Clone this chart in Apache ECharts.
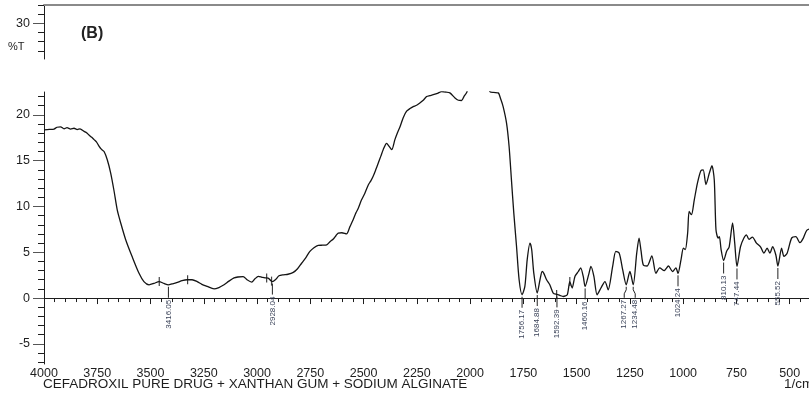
<!DOCTYPE html>
<html>
<head>
<meta charset="utf-8">
<script src="https://cdn.jsdelivr.net/npm/echarts@6/dist/echarts.min.js"></script>
<style>
  html, body { margin: 0; padding: 0; background: #fff; }
  #chart { width: 809px; height: 394px; }
</style>
</head>
<body>
<div id="chart"></div>
<script>
// FTIR spectrum: wavenumber (1/cm) against transmittance (%T)
const wavenumber = [
  4000, 3975, 3953, 3939, 3922, 3906, 3892, 3875, 3859, 3844, 3831, 3812, 3800, 3789, 3776,
  3765, 3754, 3742, 3730, 3718, 3703, 3687, 3672, 3656, 3640, 3617, 3586, 3554, 3531, 3507,
  3484, 3460, 3437, 3416.05, 3399, 3374, 3352, 3328, 3305, 3281, 3259, 3234, 3202, 3179, 3155,
  3132, 3108, 3090, 3065, 3047, 3025, 3010, 2994, 2977, 2963, 2948, 2935, 2928.04, 2912, 2897,
  2877, 2855, 2830, 2810, 2791, 2770, 2752, 2733, 2713, 2693, 2673, 2658, 2642, 2630, 2619,
  2602, 2580, 2564, 2549, 2536, 2525, 2510, 2494, 2478, 2466, 2455, 2443, 2431, 2419, 2408,
  2392, 2381, 2368, 2353, 2341, 2329, 2314, 2298, 2282, 2267, 2251, 2236, 2220, 2204, 2189,
  2173, 2153, 2134, 2114, 2095, 2071, 2055, 2040, 2029, 2016, 2000, 1960, 1930, 1907, 1889,
  1868, 1856, 1845, 1829, 1817, 1806, 1795, 1782, 1770, 1756.17, 1743, 1732, 1719, 1711, 1701,
  1684.88, 1672, 1662, 1654, 1641, 1626, 1610, 1592.39, 1579, 1563, 1544, 1532, 1521, 1508, 1492,
  1481, 1469, 1460.16, 1442, 1433, 1419, 1404, 1386, 1367, 1352, 1331, 1316, 1300, 1284, 1267.27,
  1250, 1234.48, 1218, 1207, 1198, 1187, 1169, 1147, 1128, 1110, 1089, 1069, 1050, 1034, 1024.24,
  1010, 999, 990, 979, 972, 961, 948, 933, 917, 906, 893, 877, 865, 854, 846,
  836, 830, 822, 810.13, 796, 784, 768, 758, 747.44, 731, 715, 703, 691, 675, 656,
  637, 621, 606, 593, 580, 565, 555.52, 538, 527, 512, 491, 471, 452, 436, 420, 400
];
const transmittance = [
  18.37, 18.42, 18.45, 18.65, 18.70, 18.48, 18.60, 18.45, 18.54, 18.40, 18.48, 18.20, 18.05, 17.80, 17.55,
  17.30, 17.06, 16.60, 16.24, 16.00, 15.10, 13.65, 11.80, 9.60, 8.20, 6.40, 4.50, 2.70, 1.80, 1.45,
  1.60, 1.80, 1.60, 1.45, 1.55, 1.70, 1.90, 2.00, 2.00, 1.80, 1.50, 1.27, 1.00, 1.15, 1.45,
  1.85, 2.20, 2.30, 2.35, 2.00, 1.75, 2.10, 2.36, 2.27, 2.20, 2.18, 1.90, 1.80, 2.05, 2.43,
  2.54, 2.60, 2.80, 3.20, 3.80, 4.45, 5.10, 5.50, 5.75, 5.77, 5.80, 6.15, 6.45, 6.80, 7.10,
  7.13, 7.00, 7.80, 8.55, 9.30, 9.80, 10.70, 11.45, 12.35, 12.80, 13.30, 14.00, 14.75, 15.50, 16.20,
  16.90, 16.60, 16.20, 17.30, 18.05, 18.70, 19.70, 20.40, 20.70, 20.90, 21.05, 21.30, 21.60, 22.00, 22.10,
  22.20, 22.35, 22.55, 22.50, 22.40, 21.85, 21.60, 21.57, 22.00, 22.45, 23.60, 24.20, 23.80, 22.55, 22.45,
  22.40, 21.70, 20.90, 19.10, 16.55, 12.90, 9.30, 5.60, 2.00, 0.36, 1.27, 4.20, 6.00, 5.30, 2.70,
  0.55, 2.00, 2.90, 2.70, 2.00, 1.45, 0.55, 0.40, 0.30, 0.17, 0.36, 1.80, 1.10, 2.36, 2.90,
  3.30, 2.36, 1.27, 2.70, 3.45, 2.36, 0.36, 1.10, 1.80, 0.90, 3.45, 5.10, 4.90, 3.10, 1.45,
  2.90, 1.45, 4.90, 6.55, 5.20, 3.60, 3.50, 4.60, 2.70, 3.30, 3.00, 3.50, 2.90, 3.30, 2.70,
  4.20, 5.45, 5.30, 7.10, 9.45, 9.10, 10.70, 12.55, 13.90, 14.00, 12.40, 13.65, 14.45, 12.90, 7.45,
  6.55, 6.70, 5.30, 4.10, 5.10, 5.60, 8.20, 6.00, 3.45, 5.60, 6.55, 6.90, 6.40, 6.65, 6.00,
  5.60, 4.90, 5.45, 4.90, 5.60, 4.70, 3.50, 5.45, 4.55, 4.90, 6.55, 6.70, 6.05, 6.55, 7.40, 7.60
];

// picked peaks
const peakWavenumber = [3416.05, 2928.04, 1756.17, 1684.88, 1592.39, 1460.16, 1267.27, 1234.48, 1024.24, 810.13, 747.44, 555.52];
const peakTransmittance = [1.45, 1.80, 0.36, 0.55, 0.40, 1.27, 1.45, 1.45, 2.70, 4.10, 3.45, 3.50];

// band limit markers
const bandWavenumber = [3459, 3326, 2955, 2932, 1594, 1532];
const bandTransmittance = [1.80, 2.00, 2.20, 1.85, 0.40, 1.80];

// axis ticks
const xMajorTicks = [500, 750, 1000, 1250, 1500, 1750, 2000, 2250, 2500, 2750, 3000, 3250, 3500, 3750, 4000];
const yMajorTicks = [-5, 0, 5, 10, 15, 20];
const yUpperMajorTicks = [30];

const xMinorTicks = [];
for (let v = 400; v <= 4000; v += 50) xMinorTicks.push(v);
const yMinorTicks = [];
for (let v = -7; v <= 22; v++) if (v % 5 !== 0) yMinorTicks.push(v);
const yUpperMinorTicks = [27, 28, 29, 31, 32];

const spectrum = wavenumber.map((w, i) => [w, transmittance[i]]);
const peaks = peakWavenumber.map((w, i) => [w, peakTransmittance[i]]);
const bands = bandWavenumber.map((w, i) => [w, bandTransmittance[i]]);

const FONT = '"Liberation Sans", Arial, sans-serif';
const INK = '#1e1e1e';
const plain = v => String(v);

const chart = echarts.init(document.getElementById('chart'), null, { renderer: 'canvas' });

chart.setOption({
  animation: false,
  backgroundColor: '#fff',
  grid: [
    { left: 44, top: 5, width: 767, height: 54, outerBoundsMode: 'none', containLabel: false },
    { left: 44, top: 92, width: 767, height: 272, outerBoundsMode: 'none', containLabel: false }
  ],
  xAxis: [
    { // lower: minor ticks + axis line
      type: 'value', gridIndex: 1, min: 400, max: 4000, inverse: true, position: 'bottom',
      axisLine: { show: true, lineStyle: { color: INK, width: 1 } },
      axisTick: { show: true, inside: false, length: 4, customValues: xMinorTicks, lineStyle: { color: INK } },
      axisLabel: { show: false },
      splitLine: { show: false }
    },
    { // lower: major ticks + labels
      type: 'value', gridIndex: 1, min: 400, max: 4000, inverse: true, position: 'bottom',
      axisLine: { show: false },
      axisTick: { show: true, length: 6, customValues: xMajorTicks, lineStyle: { color: INK } },
      axisLabel: {
        show: true, customValues: xMajorTicks, margin: 3, formatter: plain,
        fontFamily: FONT, fontSize: 12.5, color: INK
      },
      splitLine: { show: false }
    },
    { // upper frame line
      type: 'value', gridIndex: 0, min: 400, max: 4000, inverse: true, position: 'top',
      axisLine: { show: true, lineStyle: { color: '#8a8a8a', width: 2 } },
      axisTick: { show: false }, axisLabel: { show: false }, splitLine: { show: false }
    }
  ],
  yAxis: [
    {
      type: 'value', gridIndex: 0, min: 26.1, max: 32, position: 'left',
      axisLine: { show: true, lineStyle: { color: INK } },
      axisTick: { show: true, length: 6, customValues: yUpperMinorTicks, lineStyle: { color: INK } },
      axisLabel: { show: false }, splitLine: { show: false }
    },
    {
      type: 'value', gridIndex: 0, min: 26.1, max: 32, position: 'left',
      axisLine: { show: false },
      axisTick: { show: true, length: 11, customValues: yUpperMajorTicks, lineStyle: { color: '#555' } },
      axisLabel: { show: true, customValues: yUpperMajorTicks, margin: 14, formatter: plain, fontFamily: FONT, fontSize: 12.5, color: INK },
      splitLine: { show: false }
    },
    {
      type: 'value', gridIndex: 1, min: -7.2, max: 22.5, position: 'left',
      axisLine: { show: true, lineStyle: { color: INK } },
      axisTick: { show: true, length: 6, customValues: yMinorTicks, lineStyle: { color: INK } },
      axisLabel: { show: false }, splitLine: { show: false }
    },
    {
      type: 'value', gridIndex: 1, min: -7.2, max: 22.5, position: 'left',
      axisLine: { show: false },
      axisTick: { show: true, length: 11, customValues: yMajorTicks, lineStyle: { color: '#555' } },
      axisLabel: { show: true, customValues: yMajorTicks, margin: 14, formatter: plain, fontFamily: FONT, fontSize: 12.5, color: INK },
      splitLine: { show: false }
    }
  ],
  series: [
    {
      type: 'line', xAxisIndex: 0, yAxisIndex: 2, data: spectrum,
      showSymbol: false, clip: true, smooth: 0.25,
      lineStyle: { color: '#141414', width: 1.3 }
    },
    {
      type: 'scatter', xAxisIndex: 0, yAxisIndex: 2, data: bands,
      symbol: 'rect', symbolSize: [1.2, 9],
      itemStyle: { color: '#141414' }
    },
    {
      type: 'custom', xAxisIndex: 0, yAxisIndex: 2, data: peaks, clip: false,
      renderItem: function (params, api) {
        const p = api.coord([api.value(0), api.value(1)]);
        // spread labels of neighbouring peaks that sit too close together
        let dx = 0;
        const i = params.dataIndex;
        if (i > 0) {
          const q = api.coord(peaks[i - 1]);
          if (Math.abs(p[0] - q[0]) < 10) dx += 2;
        }
        if (i < peaks.length - 1) {
          const q = api.coord(peaks[i + 1]);
          if (Math.abs(p[0] - q[0]) < 10) dx -= 2;
        }
        const x0 = p[0], y0 = p[1] + 2;
        const pts = dx === 0
          ? [[x0, y0], [x0, y0 + 11]]
          : [[x0, y0], [x0, y0 + 3], [x0 + dx, y0 + 7], [x0 + dx, y0 + 11]];
        return {
          type: 'group',
          children: [
            { type: 'polyline', shape: { points: pts }, style: { stroke: '#222', lineWidth: 1, fill: null } },
            {
              type: 'text', x: x0 + dx, y: y0 + 13, rotation: Math.PI / 2,
              style: {
                text: api.value(0).toFixed(2), align: 'right', verticalAlign: 'middle',
                fontFamily: FONT, fontSize: 8, fill: '#3a4258'
              }
            }
          ]
        };
      }
    }
  ],
  graphic: [
    { type: 'text', left: 8, top: 41, style: { text: '%T', fontFamily: FONT, fontSize: 11, fill: INK } },
    { type: 'text', left: 81, top: 26, style: { text: '(B)', fontFamily: FONT, fontSize: 16, fontWeight: 'bold', fill: '#222' } },
    { type: 'text', left: 43, top: 377, style: { text: 'CEFADROXIL PURE DRUG + XANTHAN GUM + SODIUM ALGINATE', fontFamily: FONT, fontSize: 13.5, fill: INK } },
    { type: 'text', left: 784, top: 377, style: { text: '1/cm', fontFamily: FONT, fontSize: 13.5, fill: INK } }
  ]
});
</script>
</body>
</html>
